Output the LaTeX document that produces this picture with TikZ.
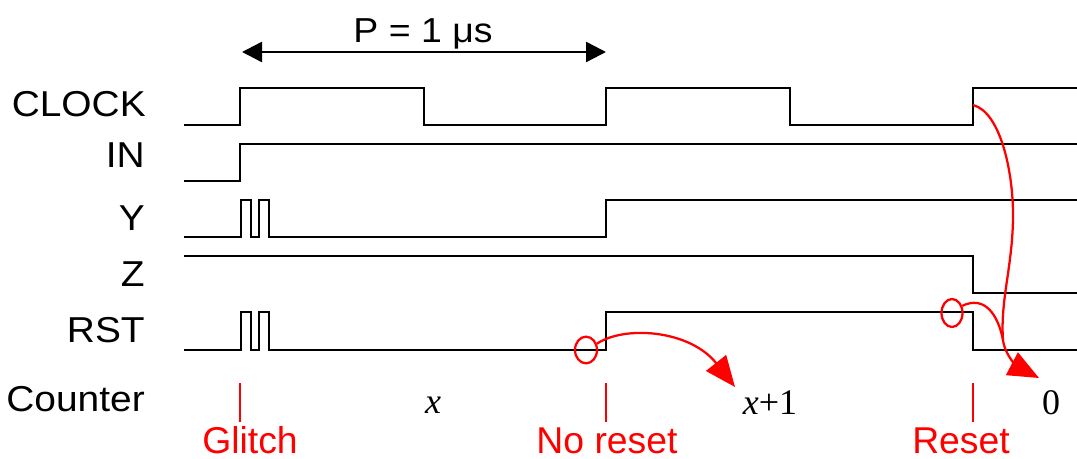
\documentclass[tikz,border=0pt]{standalone}
\usepackage{fontspec}
\setmainfont{Liberation Sans}
\newfontfamily\lblfont{Liberation Sans}[FakeStretch=1.08]
\newfontfamily\pfont{Liberation Sans}[FakeStretch=1.08]
\newfontfamily\tmsfont{Liberation Serif}
\usetikzlibrary{arrows.meta,shapes.geometric}
\definecolor{rd}{RGB}{255,0,0}
\begin{document}
\begin{tikzpicture}[x=0.75pt,y=-0.75pt,
  sig/.style={line width=1.8pt, line join=miter, line cap=rect},
  lbl/.style={inner sep=0pt, anchor=base east, font=\lblfont\fontsize{27pt}{30pt}\selectfont},
  redlbl/.style={inner sep=0pt, anchor=base, text=rd, font=\fontsize{28pt}{30pt}\selectfont},
  cnt/.style={inner sep=0pt, anchor=base, font=\tmsfont\fontsize{27pt}{30pt}\selectfont},
  tick/.style={draw=rd, line width=1.7pt},
  ring/.style={draw=rd, ellipse, inner sep=0pt, line width=1.7pt},
  redarrow/.style={draw=rd, line width=1.7pt, -{Triangle[length=23pt,width=19pt]}},
  redline/.style={draw=rd, line width=1.7pt},
  parrow/.style={line width=1.8pt, {Triangle[length=15pt,width=15pt]}-{Triangle[length=15pt,width=15pt]}}
]
\useasboundingbox (0,0) rectangle (1077,459);

% period arrow
\coordinate (pl) at (242,52);
\coordinate (pr) at (606,52);
\draw[parrow] (pl) -- (pr);
\node[inner sep=0pt, anchor=base, font=\pfont\fontsize{26pt}{28pt}\selectfont] (ptext) at (423,43) {P = 1 μs};

% labels
\node[lbl] (lclk) at (146,117) {CLOCK};
\node[lbl] (lin) at (145,168) {IN};
\node[lbl] (ly) at (145,231) {Y};
\node[lbl] (lz) at (145,287) {Z};
\node[lbl] (lrst) at (145,343) {RST};
\node[lbl] (lcnt) at (145,411) {Counter};

% waveforms
\draw[sig] (185,125) -| (240,88) -| (424,125) -| (606,88) -| (790,125) -| (973,88) -- (1077,88);
\draw[sig] (185,181) -| (240,144) -- (1077,144);
\draw[sig] (185,237) -| (241,200) -| (251,237) -| (259,200) -| (269,237) -| (606,200) -- (1077,200);
\draw[sig] (185,256) -| (973,293) -- (1077,293);
\draw[sig] (185,350) -| (241,312) -| (251,350) -| (259,312) -| (269,350) -| (606,312) -| (973,350) -- (1077,350);

% counter values
\node[cnt] (cx) at (433,413) {\itshape x};
\node[cnt] (cx1) at (770,414) {{\itshape x}+1};
\node[cnt] (c0) at (1051,414) {0};

% red ticks and labels
\draw[tick] (240,383) -- (240,422);
\draw[tick] (606,383) -- (606,422);
\draw[tick] (973,383) -- (973,422);
\node[redlbl] (lg) at (250,453) {Glitch};
\node[redlbl] (lnr) at (607,453) {No reset};
\node[redlbl] (lr) at (961,453) {Reset};

% red annotations
\node[ring, minimum width=16.5pt, minimum height=20pt] (e1) at (586,350) {};
\node[ring, minimum width=15.75pt, minimum height=21pt] (e2) at (952,313) {};
\coordinate (nrtip) at (735,387);
\coordinate (rtip) at (1039,378);
\coordinate (clkr) at (973,105);
\coordinate (merge) at (1003,340);
\draw[redarrow] (e1.30) .. controls (625,325) and (690,330) .. (nrtip);
\draw[redarrow] (clkr) .. controls (1000,112) and (1013,170) .. (1013,215) .. controls (1013,265) and (1000,300) .. (merge) .. controls (1005,357) and (1020,368) .. (rtip);
\draw[redline] (e2.35) .. controls (985,295) and (998,315) .. (merge);
\end{tikzpicture}
\end{document}
